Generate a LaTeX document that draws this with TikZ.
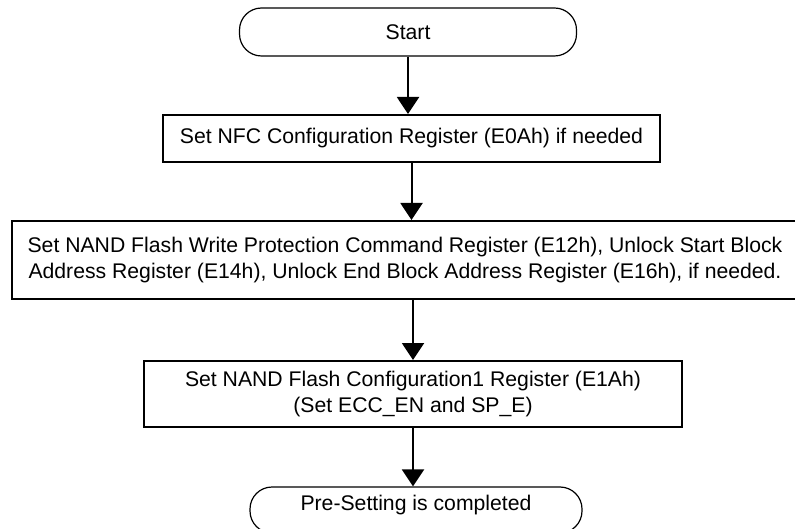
\documentclass[tikz,border=0pt]{standalone}
\usepackage{fontspec}
\setmainfont{Liberation Sans}
\usetikzlibrary{arrows.meta}
\begin{document}
\begin{tikzpicture}[x=1pt,y=-1pt,
  every node/.style={font=\fontsize{21.2}{26.7}\selectfont},
  term/.style={draw, line width=1.2pt, rounded corners=22pt, inner sep=0pt},
  proc/.style={draw, line width=2pt, inner sep=0pt, align=center},
  arr/.style={line width=2pt, -{Triangle[width=22pt,length=17pt]}}]
\useasboundingbox (0,0) rectangle (795,529);
\node[term, minimum width=337pt, minimum height=48pt] (start) at (408,32) {Start};
\node[proc, minimum width=497pt, minimum height=47pt] (b1) at (411.5,138.5) {Set NFC Configuration Register (E0Ah) if needed};
\node[proc, minimum width=786pt, minimum height=78pt] (b2) at (405,260) {Set NAND Flash Write Protection Command Register (E12h), Unlock Start Block\\Address Register (E14h), Unlock End Block Address Register (E16h), if needed.};
\node[proc, minimum width=538pt, minimum height=66pt] (b3) at (413,394) {Set NAND Flash Configuration1 Register (E1Ah)\\(Set ECC\_EN and SP\_E)};
\node[term, minimum width=332pt, minimum height=46pt, text height=15.5pt, text depth=14pt] (end) at (416,510) {Pre-Setting is completed};
\draw[arr] (start.south) -- (start.south |- b1.north);
\draw[arr] (b1.south) -- (b1.south |- b2.north);
\draw[arr] (b3.north |- b2.south) -- (b3.north);
\draw[arr] (b3.south) -- (b3.south |- end.north);
\end{tikzpicture}
\end{document}
